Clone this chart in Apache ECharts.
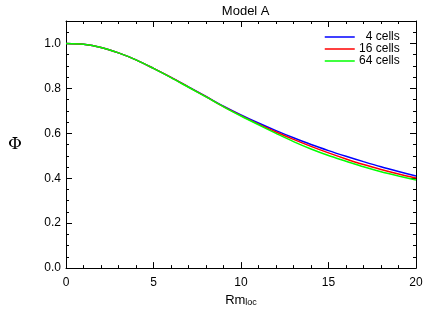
<!DOCTYPE html>
<html>
<head>
<meta charset="utf-8">
<script src="https://cdn.jsdelivr.net/npm/echarts@6/dist/echarts.min.js"></script>
<style>html,body{margin:0;padding:0;background:#fff}#c{width:436px;height:312px}</style>
</head>
<body>
<div id="c"></div>
<script>
var rmLoc = [0,1,2,3,4,5,6,7,8,9,10,11,12,13,14,15,16,17,18,19,20];
var cells4  = [1.000,0.996,0.982,0.958,0.927,0.889,0.849,0.807,0.764,0.721,0.682,0.646,0.612,0.580,0.550,0.523,0.498,0.474,0.451,0.430,0.410];
var cells16 = [1.000,0.996,0.982,0.958,0.927,0.889,0.849,0.806,0.763,0.719,0.679,0.641,0.606,0.573,0.542,0.513,0.486,0.461,0.439,0.419,0.401];
var cells64 = [1.000,0.996,0.982,0.958,0.927,0.889,0.848,0.805,0.762,0.718,0.677,0.638,0.600,0.563,0.530,0.501,0.476,0.451,0.429,0.410,0.392];
var seriesNames = ' 4 cells|16 cells|64 cells'.split('|');
var seriesColors = ['#0000ff','#ff0000','#00ff00'];
var xTicks = [0,5,10,15,20];
var yTicks = [0.0,0.2,0.4,0.6,0.8,1.0];

function pairs(xs, ys){ return xs.map(function(x,i){return [x, ys[i]];}); }
var allY = [cells4, cells16, cells64];
var font = 'Liberation Sans';
var tickBase = {inside:true, length:6, lineStyle:{color:'#000', width:1}};
var minorBase = {show:true, length:3, lineStyle:{color:'#000', width:1}};

var chart = echarts.init(document.getElementById('c'), null, {renderer:'canvas'});
chart.setOption({
  animation:false,
  backgroundColor:'#fff',
  title:{text:'Model A', left:240.7, textAlign:'center', top:0,
    textStyle:{fontFamily:font, fontSize:13, fontWeight:'normal', color:'#000'}},
  legend:{
    orient:'vertical', left:324, top:31, padding:0, itemWidth:30, itemHeight:11, itemGap:0,
    data: seriesNames,
    itemStyle:{opacity:0},
    lineStyle:{width:1.5},
    textStyle:{fontFamily:font, fontSize:12, color:'#000', lineHeight:11,
      rich:{a:{width:40, align:'right', fontFamily:font, fontSize:12, lineHeight:11, color:'#000'}}},
    formatter:function(n){return '{a|'+n+'}';}
  },
  grid:{left:66, right:20, top:21, bottom:43, containLabel:false},
  xAxis:[
    {type:'value', min:0, max:20, interval:5, position:'bottom',
     name:'{r|Rm}{s|loc}', nameLocation:'middle', nameGap:19,
     nameTextStyle:{rich:{r:{fontFamily:font, fontSize:13, color:'#000', verticalAlign:'bottom'},
                           s:{fontFamily:font, fontSize:9, color:'#000', verticalAlign:'bottom', padding:[0,0,0,0]}}},
     axisLine:{show:true, onZero:false, lineStyle:{color:'#000', width:1}},
     axisTick:tickBase, minorTick:Object.assign({splitNumber:5}, minorBase),
     axisLabel:{fontFamily:font, fontSize:12, color:'#000', margin:9,
       formatter:function(v){return xTicks.indexOf(v)>=0 ? String(v) : '';}},
     splitLine:{show:false}, minorSplitLine:{show:false}},
    {type:'value', min:0, max:20, interval:5, position:'top',
     axisLine:{show:true, onZero:false, lineStyle:{color:'#000', width:1}},
     axisTick:tickBase, minorTick:Object.assign({splitNumber:5}, minorBase),
     axisLabel:{show:false}, splitLine:{show:false}}
  ],
  yAxis:[
    {type:'value', min:0, max:1.1, interval:0.2, position:'left',
     name:'Φ', nameLocation:'middle', nameGap:44, nameRotate:0,
     nameTextStyle:{fontFamily:'DejaVu Serif', fontSize:17, color:'#000'},
     axisLine:{show:true, onZero:false, lineStyle:{color:'#000', width:1}},
     axisTick:tickBase, minorTick:Object.assign({splitNumber:4}, minorBase),
     axisLabel:{fontFamily:font, fontSize:12, color:'#000', margin:5, showMaxLabel:false,
       formatter:function(v){ var r=Math.round(v*10)/10; return yTicks.indexOf(r)>=0 && Math.abs(v-r)<1e-6 ? r.toFixed(1) : '';}},
     splitLine:{show:false}},
    {type:'value', min:0, max:1.1, interval:0.2, position:'right',
     axisLine:{show:true, onZero:false, lineStyle:{color:'#000', width:1}},
     axisTick:tickBase, minorTick:Object.assign({splitNumber:4}, minorBase),
     axisLabel:{show:false}, splitLine:{show:false}}
  ],
  series: seriesNames.map(function(n,i){
    return {name:n, type:'line', xAxisIndex:0, yAxisIndex:0, data:pairs(rmLoc, allY[i]),
      smooth:0.3, symbol:'none', showSymbol:false,
      lineStyle:{color:seriesColors[i], width:1.5}, itemStyle:{color:seriesColors[i]}, z:2+i};
  })
});
</script>
</body>
</html>
